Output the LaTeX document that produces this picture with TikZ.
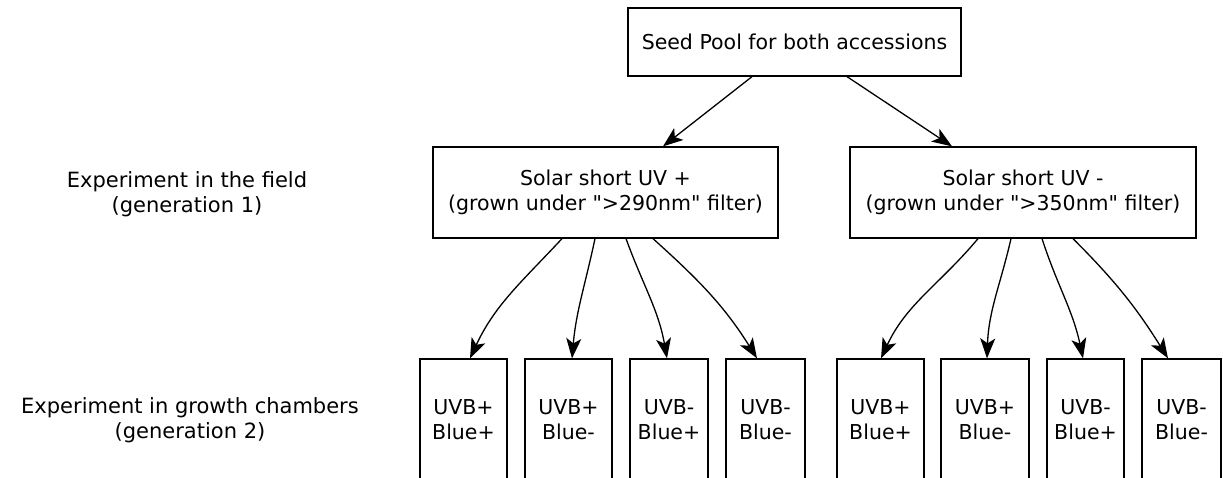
\documentclass[tikz,border=0pt]{standalone}
\usepackage{fontspec}
\setmainfont{DejaVu Sans}[Ligatures=TeXOff]
\usetikzlibrary{arrows.meta}
\begin{document}
\begin{tikzpicture}[x=1pt,y=1pt,
  box/.style={draw,line width=1.3pt,inner sep=0pt,align=center,font=\fontsize{20.5}{25}\selectfont},
  lbl/.style={align=center,inner sep=0pt,font=\fontsize{21}{25}\selectfont},
  arr/.style={line width=1.3pt,-{Stealth[length=20pt,width=15pt,inset=5pt]}},
  cbox/.style={box,minimum height=122pt,anchor=center}]
\useasboundingbox (0,0) rectangle (1223,477);
\clip (0,0) rectangle (1223,477);
\node[box,minimum width=333pt,minimum height=68pt] (top) at (794.5,435) {Seed Pool for both accessions};
\node[box,minimum width=345pt,minimum height=91pt] (midL) at (605.5,284.5) {Solar short UV +\\(grown under ">290nm" filter)};
\node[box,minimum width=346pt,minimum height=91pt] (midR) at (1023,284.5) {Solar short UV -\\(grown under ">350nm" filter)};
\node[lbl] (l1) at (187,283) {Experiment in the field\\(generation 1)};
\node[lbl] (l2) at (190,57) {Experiment in growth chambers\\(generation 2)};
\node[cbox,minimum width=87pt] (b1) at (463.5,57) {UVB+\\Blue+};
\node[cbox,minimum width=87pt] (b2) at (568.5,57) {UVB+\\Blue-};
\node[cbox,minimum width=78pt] (b3) at (669,57) {UVB-\\Blue+};
\node[cbox,minimum width=79pt] (b4) at (765.5,57) {UVB-\\Blue-};
\node[cbox,minimum width=87pt] (b5) at (880.5,57) {UVB+\\Blue+};
\node[cbox,minimum width=88pt] (b6) at (985,57) {UVB+\\Blue-};
\node[cbox,minimum width=77pt] (b7) at (1085.5,57) {UVB-\\Blue+};
\node[cbox,minimum width=79pt] (b8) at (1181.5,57) {UVB-\\Blue-};
\draw[arr] ([xshift=-42.5pt]top.south) -- ([xshift=57.5pt]midL.north);
\draw[arr] ([xshift=52.5pt]top.south) -- ([xshift=-71pt]midR.north);
\draw[arr] ([xshift=-43.5pt]midL.south) to[out=-133,in=65] ([xshift=6.5pt]b1.north);
\draw[arr] ([xshift=-10.5pt]midL.south) to[out=-102,in=85] ([xshift=3.5pt]b2.north);
\draw[arr] ([xshift=20.5pt]midL.south) to[out=-70,in=100] ([xshift=-2pt]b3.north);
\draw[arr] ([xshift=47.5pt]midL.south) to[out=-42,in=122] ([xshift=-8.5pt]b4.north);
\draw[arr] ([xshift=-45pt]midR.south) to[out=-130,in=65] ([xshift=0.5pt]b5.north);
\draw[arr] ([xshift=-12pt]midR.south) to[out=-103,in=88] ([xshift=2pt]b6.north);
\draw[arr] ([xshift=19pt]midR.south) to[out=-72,in=102] ([xshift=-2.5pt]b7.north);
\draw[arr] ([xshift=50pt]midR.south) to[out=-45,in=122] ([xshift=-13.5pt]b8.north);
\end{tikzpicture}
\end{document}
